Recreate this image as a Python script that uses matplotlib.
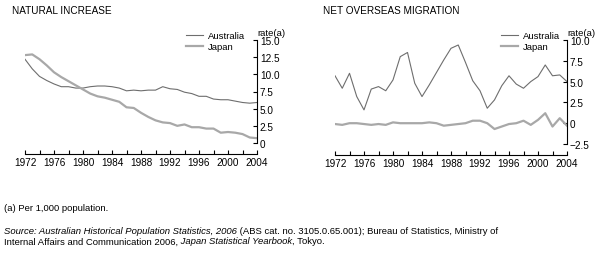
import matplotlib.pyplot as plt
from matplotlib.ticker import MultipleLocator

plt.rcParams['font.family'] = ['Liberation Sans', 'DejaVu Sans']
plt.rcParams['font.size'] = 7.2

years = list(range(1972, 2005))

# Natural increase, per 1,000 population
nat_australia = [12.2, 10.8, 9.7, 9.1, 8.6, 8.2, 8.2, 8.0, 8.0, 8.2, 8.3, 8.3, 8.2, 8.0,
                 7.6, 7.7, 7.6, 7.7, 7.7, 8.2, 7.9, 7.8, 7.4, 7.2, 6.8, 6.8, 6.4, 6.3,
                 6.3, 6.1, 5.9, 5.8, 5.9]
nat_japan = [12.8, 12.9, 12.2, 11.3, 10.3, 9.6, 9.0, 8.4, 7.8, 7.2, 6.8, 6.6, 6.3, 6.0,
             5.2, 5.1, 4.4, 3.8, 3.3, 3.0, 2.9, 2.5, 2.7, 2.3, 2.3, 2.1, 2.1, 1.5,
             1.6, 1.5, 1.3, 0.8, 0.7]

# Net overseas migration, per 1,000 population
nom_australia = [5.7, 4.2, 6.0, 3.2, 1.6, 4.1, 4.4, 3.9, 5.2, 8.0, 8.5, 4.8, 3.2, 4.6,
                 6.1, 7.6, 9.0, 9.4, 7.3, 5.1, 3.9, 1.8, 2.8, 4.5, 5.7, 4.7, 4.2, 5.0,
                 5.6, 7.0, 5.7, 5.8, 5.0]
nom_japan = [-0.1, -0.2, 0.0, 0.0, -0.1, -0.2, -0.1, -0.2, 0.1, 0.0, 0.0, 0.0, 0.0, 0.1,
             0.0, -0.3, -0.2, -0.1, 0.0, 0.3, 0.3, 0.0, -0.7, -0.4, -0.1, 0.0, 0.3, -0.2,
             0.4, 1.2, -0.4, 0.6, -0.3]

aus_color = '#6e6e6e'
jap_color = '#a8a8a8'

fig = plt.figure(figsize=(6.01, 2.55), dpi=100)


def style_axes(ax, ymin, ymax):
    ax.set_xlim(1972, 2004)
    ax.set_ylim(ymin, ymax)
    ax.spines['top'].set_visible(False)
    ax.spines['left'].set_visible(False)
    ax.spines['bottom'].set_position(('outward', 8))
    ax.spines['bottom'].set_bounds(1972, 2004)
    ax.yaxis.tick_right()
    ax.yaxis.set_major_locator(MultipleLocator(2.5))
    ax.yaxis.set_major_formatter(lambda v, p: '0' if abs(v) < 1e-9 else f'{v:.1f}'.replace('-', '\u2212'))
    ax.xaxis.set_major_locator(MultipleLocator(4))
    ax.xaxis.set_minor_locator(MultipleLocator(2))
    ax.tick_params(axis='x', which='both', direction='in', length=3, width=0.8, pad=2, labelsize=7.2)
    ax.tick_params(axis='y', direction='in', length=3, width=0.8, pad=2, labelsize=7.2)
    for s in ax.spines.values():
        s.set_linewidth(0.8)
    ax.text(1.0, 1.03, 'rate(a)', transform=ax.transAxes, fontsize=6.8, ha='left', va='bottom')
    ax.patch.set_alpha(0)


ax1 = fig.add_axes([25 / 601, 1 - 144 / 255, 232 / 601, 103 / 255])
ax1.plot(years, nat_australia, color=aus_color, lw=0.8, label='Australia')
ax1.plot(years, nat_japan, color=jap_color, lw=1.6, label='Japan')
style_axes(ax1, 0, 15)
ax1.legend(loc='upper right', bbox_to_anchor=(0.965, 1.12), frameon=False, fontsize=6.8,
           handlelength=1.8, handletextpad=0.5, labelspacing=0.2, borderaxespad=0)

ax2 = fig.add_axes([335 / 601, 1 - 145 / 255, 232 / 601, 104 / 255])
ax2.plot(years, nom_australia, color=aus_color, lw=0.8, label='Australia')
ax2.plot(years, nom_japan, color=jap_color, lw=1.6, label='Japan')
style_axes(ax2, -2.5, 10)
ax2.legend(loc='upper right', bbox_to_anchor=(0.985, 1.12), frameon=False, fontsize=6.8,
           handlelength=1.8, handletextpad=0.5, labelspacing=0.2, borderaxespad=0)

fig.text(12 / 601, 1 - 11 / 255, 'NATURAL INCREASE', fontsize=7.2, va='center', ha='left')
fig.text(323 / 601, 1 - 11 / 255, 'NET OVERSEAS MIGRATION', fontsize=7.2, va='center', ha='left')

fig.text(4 / 601, 1 - 209 / 255, '(a) Per 1,000 population.', fontsize=6.8, va='center', ha='left')

# source lines with mixed italics, pieces placed one after another
fig.canvas.draw()
renderer = fig.canvas.get_renderer()


def draw_parts(parts, x_px, y_px):
    x = x_px
    for txt, style in parts:
        t = fig.text(x / 601, 1 - y_px / 255, txt, fontsize=6.8, style=style, va='center', ha='left')
        x += t.get_window_extent(renderer=renderer).width


draw_parts([('Source: Australian Historical Population Statistics, 2006', 'italic'),
            (' (ABS cat. no. 3105.0.65.001); Bureau of Statistics, Ministry of', 'normal')], 4, 232)
draw_parts([('Internal Affairs and Communication 2006,', 'normal'),
            (' Japan Statistical Yearbook', 'italic'),
            (', Tokyo.', 'normal')], 4, 242)

fig.savefig('out.png', dpi=100)
